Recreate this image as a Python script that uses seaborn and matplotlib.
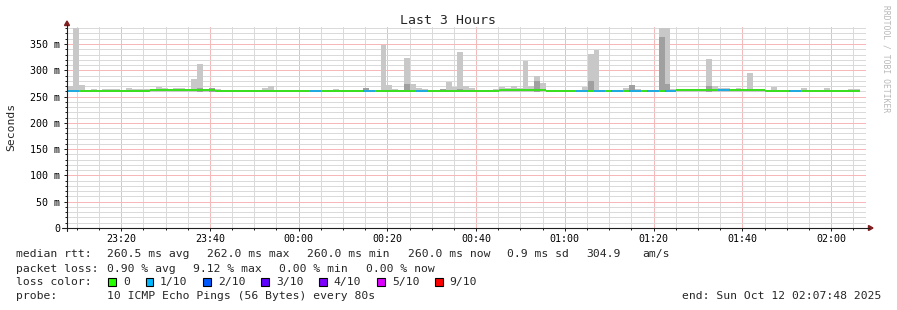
import numpy as np
import pandas as pd
import matplotlib
matplotlib.use("Agg")
import matplotlib.pyplot as plt
import seaborn as sns
from matplotlib.ticker import MultipleLocator, FuncFormatter
from matplotlib.patches import Rectangle, Polygon
from matplotlib.lines import Line2D

# ---------------- data ----------------
START_MIN = 7.8          # minutes after 23:00 (23:07:48)
STEP_MIN = 80 / 60.0     # 80 s step
RTT_FLOOR = 259.5        # lowest ping (ms)

# top of the smoke (slowest ping), ms, one value per 80 s step
rtt_max = [
    270, 380, 272, 262, 264, 262, 265, 265, 265, 262,
    266, 265, 265, 265, 264, 268, 266, 264, 266, 266,
    264, 283, 312, 265, 265, 265, 262, 262, 262, 262,
    262, 262, 262, 266, 270, 262, 262, 262, 262, 262,
    262, 262, 262, 262, 262, 265, 262, 262, 262, 262,
    266, 262, 262, 348, 272, 265, 262, 323, 274, 266,
    265, 262, 262, 265, 277, 269, 335, 270, 266, 262,
    262, 262, 265, 268, 266, 270, 266, 317, 270, 289,
    276, 262, 262, 262, 262, 262, 262, 268, 331, 338,
    262, 262, 262, 262, 266, 272, 265, 262, 262, 262,
    380, 380, 265, 264, 264, 264, 264, 264, 321, 270,
    266, 266, 264, 266, 265, 295, 265, 265, 262, 268,
    262, 262, 262, 262, 266, 262, 262, 262, 266, 262,
    262, 262, 265, 265,
]
# top of the dense (dark) part of the smoke, ms (0 = none visible)
rtt_dark = [
    0, 0, 0, 0, 0, 0, 0, 0, 0, 0,
    0, 0, 0, 0, 0, 0, 0, 0, 0, 0,
    0, 0, 266, 0, 266, 0, 0, 0, 0, 0,
    0, 0, 0, 0, 0, 0, 0, 0, 0, 0,
    0, 0, 0, 0, 0, 0, 0, 0, 0, 0,
    266, 0, 0, 0, 0, 0, 0, 274, 0, 0,
    0, 0, 0, 264, 0, 0, 265, 0, 0, 0,
    0, 0, 0, 0, 0, 0, 0, 0, 0, 280,
    0, 0, 0, 0, 0, 0, 0, 0, 280, 0,
    0, 0, 0, 0, 0, 272, 0, 0, 0, 0,
    363, 274, 0, 0, 0, 0, 0, 0, 270, 0,
    0, 0, 0, 0, 0, 0, 0, 0, 0, 0,
    0, 0, 0, 0, 0, 0, 0, 0, 0, 0,
    0, 0, 0, 0,
]
# median rtt, ms
rtt_median = [
    261, 261, 261, 261, 261, 261, 261, 261, 261, 261,
    261, 261, 261, 261, 263, 263, 263, 263, 263, 263,
    263, 263, 263, 263, 263, 261, 261, 261, 261, 261,
    261, 261, 261, 261, 261, 261, 261, 261, 261, 261,
    261, 261, 261, 261, 261, 261, 261, 261, 261, 261,
    261, 261, 261, 261, 261, 261, 261, 261, 261, 261,
    261, 261, 261, 261, 261, 261, 261, 261, 261, 261,
    261, 261, 261, 263, 263, 263, 263, 263, 263, 263,
    263, 261, 261, 261, 261, 261, 261, 261, 261, 261,
    261, 261, 261, 261, 261, 261, 261, 261, 261, 261,
    261, 261, 261, 263, 263, 263, 263, 263, 263, 263,
    263, 263, 263, 263, 263, 263, 263, 263, 261, 261,
    261, 261, 261, 261, 261, 261, 261, 261, 261, 261,
    261, 261, 261, 261,
]
# lost pings out of 10
loss_count = [
    1, 1, 0, 0, 0, 0, 0, 0, 0, 0,
    0, 0, 0, 0, 0, 0, 0, 0, 0, 0,
    0, 0, 0, 0, 0, 0, 0, 0, 0, 0,
    0, 0, 0, 0, 0, 0, 0, 0, 0, 0,
    0, 1, 1, 0, 0, 0, 0, 0, 0, 0,
    1, 1, 0, 0, 0, 0, 0, 0, 0, 1,
    1, 0, 0, 0, 0, 0, 0, 0, 0, 0,
    0, 0, 0, 0, 0, 0, 0, 0, 0, 0,
    0, 0, 0, 0, 0, 0, 1, 1, 0, 1,
    1, 0, 1, 1, 0, 1, 1, 0, 1, 1,
    0, 1, 1, 0, 0, 0, 0, 0, 0, 0,
    1, 1, 0, 0, 0, 0, 0, 0, 0, 0,
    0, 0, 1, 1, 0, 0, 0, 0, 0, 0,
    0, 0, 0, 0,
]

loss_levels = [0, 1, 2, 3, 4, 5, 9]
loss_labels = ["0", "1/10", "2/10", "3/10", "4/10", "5/10", "9/10"]
loss_colors = ["#26ff00", "#00b8ff", "#0059ff", "#5e00ff", "#7e00ff", "#dd00ff", "#ff0000"]

title = "Last 3 Hours"
y_label = "Seconds"
watermark = "RRDTOOL / TOBI OETIKER"
stats_rows = [
    ["median rtt:", "260.5 ms avg", "262.0 ms max", "260.0 ms min", "260.0 ms now",
     "0.9 ms sd", "304.9", "am/s"],
    ["packet loss:", "0.90 % avg", "9.12 % max", "0.00 % min", "0.00 % now"],
]
probe_label = "probe:"
probe_text = "10 ICMP Echo Pings (56 Bytes) every 80s"
end_text = "end: Sun Oct 12 02:07:48 2025"
loss_color_label = "loss color:"

# ---------------- style ----------------
W, H, DPI = 897, 310, 100
sns.set_theme(style="white")
plt.rcParams["font.family"] = ["DejaVu Sans Mono"]

LIGHT = "#c8c8c8"
DARK = "#a0a0a0"
AXIS_C = (0.12, 0.12, 0.12)
ARROW_C = (0.5, 0.12, 0.12)
GRID_C = "#dadada"
MGRID_C = "#f6b8b8"

fig = plt.figure(figsize=(W / DPI, H / DPI), dpi=DPI, facecolor="white")


def fx(x):
    return x / W


def fy(y):
    return 1 - y / H


ax = fig.add_axes([fx(67), fy(228), fx(865.7) - fx(67), fy(25.6) - fy(228)])
ax.set_facecolor("white")

n = len(rtt_max)
df = pd.DataFrame({
    "t": START_MIN + (np.arange(n) + 0.5) * STEP_MIN,
    "max": rtt_max,
    "dark": rtt_dark,
    "median": rtt_median,
    "loss": loss_count,
})
df["smoke_h"] = df["max"] - RTT_FLOOR

bar_kw = dict(native_scale=True, width=1.0, linewidth=0, edgecolor="none",
              errorbar=None, antialiased=False, ax=ax)

# light smoke
sns.barplot(data=df, x="t", y="smoke_h", bottom=RTT_FLOOR, color=LIGHT,
            zorder=1, **bar_kw)
# dense smoke
dk = df[df["dark"] > 0].copy()
dk["dark_h"] = dk["dark"] - RTT_FLOOR
sns.barplot(data=dk, x="t", y="dark_h", bottom=RTT_FLOOR, color=DARK,
            zorder=1.1, **bar_kw)
# median line coloured by loss
LINE_H = 3.8
for lvl, col in zip(loss_levels, loss_colors):
    sub = df[df["loss"] == lvl].copy()
    if len(sub) == 0:
        continue
    sub["lh"] = LINE_H
    sns.barplot(data=sub, x="t", y="lh", bottom=(sub["median"] - LINE_H / 2).to_numpy(),
                color=col, zorder=4, **bar_kw)

ax.set_xlim(START_MIN, START_MIN + 180)
ax.set_ylim(0, 385)
ax.set_xlabel("")
ax.set_ylabel("")

ax.xaxis.set_major_locator(MultipleLocator(20))
ax.xaxis.set_minor_locator(MultipleLocator(5))
ax.yaxis.set_major_locator(MultipleLocator(50))
ax.yaxis.set_minor_locator(MultipleLocator(10))


def tfmt(v, pos):
    m = int(round(23 * 60 + v)) % 1440
    return f"{m // 60:02d}:{m % 60:02d}"


def yfmt(v, pos):
    return "0" if abs(v) < 1e-9 else f"{int(round(v))} m"


ax.xaxis.set_major_formatter(FuncFormatter(tfmt))
ax.yaxis.set_major_formatter(FuncFormatter(yfmt))

ax.grid(which="minor", color=GRID_C, linestyle=(0, (1, 1)), linewidth=0.72,
        antialiased=False)
ax.grid(which="major", color=MGRID_C, linestyle=(0, (1, 1)), linewidth=0.72,
        antialiased=False)
ax.set_axisbelow(True)

for s in ax.spines.values():
    s.set_visible(False)

ax.tick_params(axis="both", which="major", length=2.2, width=0.72, color=AXIS_C,
               direction="out", labelsize=7.2, labelcolor="black")
ax.tick_params(axis="both", which="minor", length=1.4, width=0.72, color=AXIS_C,
               direction="out")
ax.tick_params(axis="y", which="major", pad=2.9)
ax.tick_params(axis="x", which="major", pad=2.3)
ax.tick_params(left=True, bottom=True, which="both")

# axis lines and arrows
fig.add_artist(Line2D([fx(62), fx(869)], [fy(228), fy(228)], color=AXIS_C, lw=0.8))
fig.add_artist(Line2D([fx(67), fx(67)], [fy(231), fy(25)], color=AXIS_C, lw=0.8))
fig.add_artist(Polygon([[fx(64.5), fy(25.5)], [fx(69.5), fy(25.5)], [fx(67), fy(21)]],
                       closed=True, color=ARROW_C, transform=fig.transFigure))
fig.add_artist(Polygon([[fx(868.5), fy(225.5)], [fx(868.5), fy(230.5)], [fx(873), fy(228)]],
                       closed=True, color=ARROW_C, transform=fig.transFigure))

# title, labels, watermark
fig.text(fx(448), fy(20), title, ha="center", va="center", fontsize=9.5)
fig.text(fx(11), fy(127), y_label, ha="center", va="center", rotation=90, fontsize=8.2)
fig.text(fx(886), fy(5), watermark, ha="center", va="top", rotation=270,
         fontsize=5.8, color="#b8b8b8")

# legend text
LEG_FS = 8.2
row_y = [254, 268.5, 282.3, 296]
row1_x = [16, 107, 207, 307, 407.6, 506.7, 586.7, 642.7]
row2_x = [16, 107, 193, 279, 366]
for s, x in zip(stats_rows[0], row1_x):
    fig.text(fx(x), fy(row_y[0]), s, ha="left", va="center", fontsize=LEG_FS)
for s, x in zip(stats_rows[1], row2_x):
    fig.text(fx(x), fy(row_y[1]), s, ha="left", va="center", fontsize=LEG_FS)

fig.text(fx(16), fy(row_y[2]), loss_color_label, ha="left", va="center", fontsize=LEG_FS)
box_x = [108.3, 145.7, 203.3, 261.3, 319.3, 377.3, 435.3]
lab_x = [123.3, 160, 217.7, 276, 333.3, 392, 449.3]
for bx, lx, lab, col in zip(box_x, lab_x, loss_labels, loss_colors):
    fig.add_artist(Rectangle((fx(bx), fy(285.5)), fx(7.3), fy(277.5) - fy(285.5),
                             facecolor=col, edgecolor="black", lw=0.8,
                             transform=fig.transFigure))
    fig.text(fx(lx), fy(row_y[2]), lab, ha="left", va="center", fontsize=LEG_FS)

fig.text(fx(16), fy(row_y[3]), probe_label, ha="left", va="center", fontsize=LEG_FS)
fig.text(fx(107), fy(row_y[3]), probe_text, ha="left", va="center", fontsize=LEG_FS)
fig.text(fx(881.7), fy(row_y[3]), end_text, ha="right", va="center", fontsize=LEG_FS)

fig.savefig("out.png", dpi=DPI, facecolor="white")
